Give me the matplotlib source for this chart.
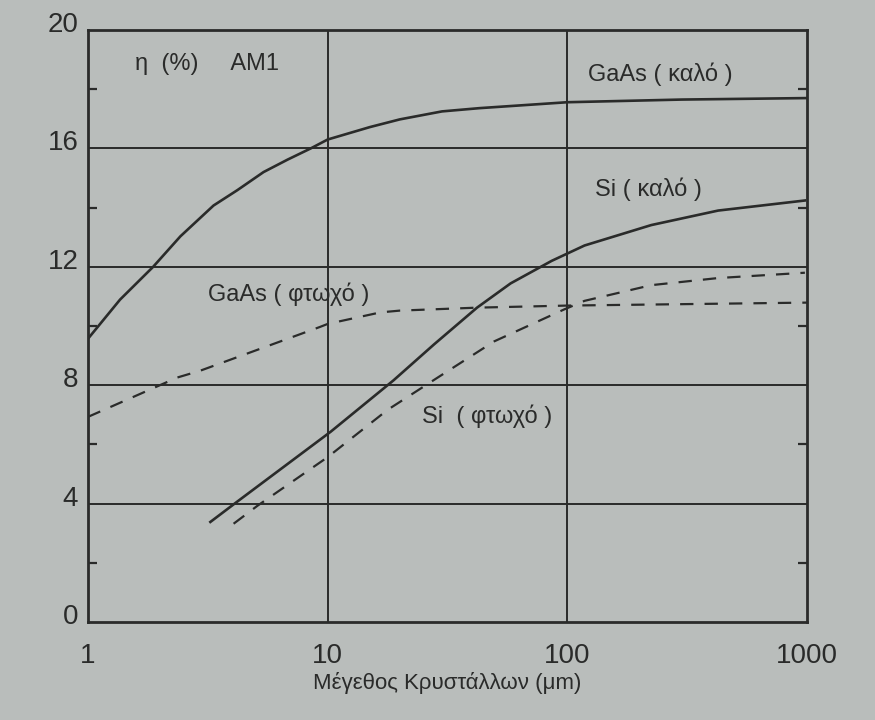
import numpy as np
import matplotlib
matplotlib.use('Agg')
from matplotlib import pyplot as plt
from matplotlib import transforms

plt.rcParams['font.family'] = ['Liberation Sans', 'DejaVu Sans']

# efficiency (%) vs crystal size (um)
gaas_good_x = [1, 1.36, 1.87, 2.43, 3.34, 4.2, 5.4, 6.8, 8.5, 10, 15, 20, 30, 43, 100, 300, 1000]
gaas_good_y = [9.57, 10.89, 12.0, 13.03, 14.07, 14.59, 15.2, 15.62, 16.0, 16.3, 16.72, 16.98, 17.25, 17.36, 17.56, 17.65, 17.7]

gaas_poor_x = [1, 2.36, 2.94, 9.3, 10, 16.6, 20, 42, 100, 1000]
gaas_poor_y = [6.93, 8.26, 8.49, 9.97, 10.07, 10.46, 10.52, 10.62, 10.69, 10.79]

si_good_x = [3.24, 4.2, 10.3, 18.8, 27.8, 42, 58, 86, 118, 224, 426, 980]
si_good_y = [3.38, 4.07, 6.43, 8.16, 9.38, 10.62, 11.44, 12.2, 12.72, 13.41, 13.9, 14.24]

si_poor_x = [4.05, 5.1, 10, 17.8, 28.8, 49.5, 97, 118, 224, 426, 980]
si_poor_y = [3.32, 3.93, 5.57, 7.17, 8.26, 9.48, 10.56, 10.85, 11.38, 11.62, 11.8]

x_ticks = [1, 10, 100, 1000]
y_ticks = [0, 4, 8, 12, 16, 20]
y_minor = [2, 6, 10, 14, 18]

bg = '#b9bdbb'
ink = '#2a2b2a'

fig = plt.figure(figsize=(8.75, 7.2), dpi=100, facecolor=bg)
ax = fig.add_axes([88 / 875, 1 - 622 / 720, (807 - 88) / 875, (622 - 30) / 720])
ax.set_facecolor(bg)

ax.set_xscale('log')
ax.set_xlim(1, 1000)
ax.set_ylim(0, 20)

for v in [4, 8, 12, 16]:
    ax.axhline(v, color=ink, lw=1.4)
for v in [10, 100]:
    ax.axvline(v, color=ink, lw=1.4)

ax.plot(gaas_good_x, gaas_good_y, color=ink, lw=1.9)
ax.plot(si_good_x, si_good_y, color=ink, lw=1.9)
l1, = ax.plot(gaas_poor_x, gaas_poor_y, color=ink, lw=1.6)
l2, = ax.plot(si_poor_x, si_poor_y, color=ink, lw=1.6)
l1.set_dashes((6, 5))
l2.set_dashes((6, 5))

for s in ax.spines.values():
    s.set_color(ink)
    s.set_linewidth(2)

ax.set_xticks(x_ticks)
ax.set_xticklabels([str(t) for t in x_ticks])
ax.xaxis.set_minor_locator(matplotlib.ticker.NullLocator())
ax.set_yticks(y_ticks)
ax.set_yticklabels([str(t) for t in y_ticks])
ax.set_yticks(y_minor, minor=True)
ax.tick_params(axis='both', which='major', length=0, labelsize=20, colors=ink)
ax.tick_params(axis='x', which='major', pad=15)
ax.tick_params(axis='y', which='major', pad=7)
ax.tick_params(axis='y', which='minor', direction='in', length=6.5, width=1.6,
               color=ink, left=True, right=True)

offset = transforms.ScaledTranslation(0, 8 / 100, fig.dpi_scale_trans)
for lab in ax.get_yticklabels():
    lab.set_transform(lab.get_transform() + offset)

ax.set_xlabel('Μέγεθος Κρυστάλλων (μm)', fontsize=16, color=ink, labelpad=2)

ax.text(1.57, 18.85, 'η  (%)     AM1', fontsize=17, color=ink, ha='left', va='center')
ax.text(122, 18.5, 'GaAs ( καλό )', fontsize=17, color=ink, ha='left', va='center')
ax.text(130, 14.63, 'Si ( καλό )', fontsize=17, color=ink, ha='left', va='center')
ax.text(3.17, 11.08, 'GaAs ( φτωχό )', fontsize=17, color=ink, ha='left', va='center')
ax.text(24.7, 6.96, 'Si  ( φτωχό )', fontsize=17, color=ink, ha='left', va='center')

fig.savefig('out.png', dpi=100, facecolor=bg)
